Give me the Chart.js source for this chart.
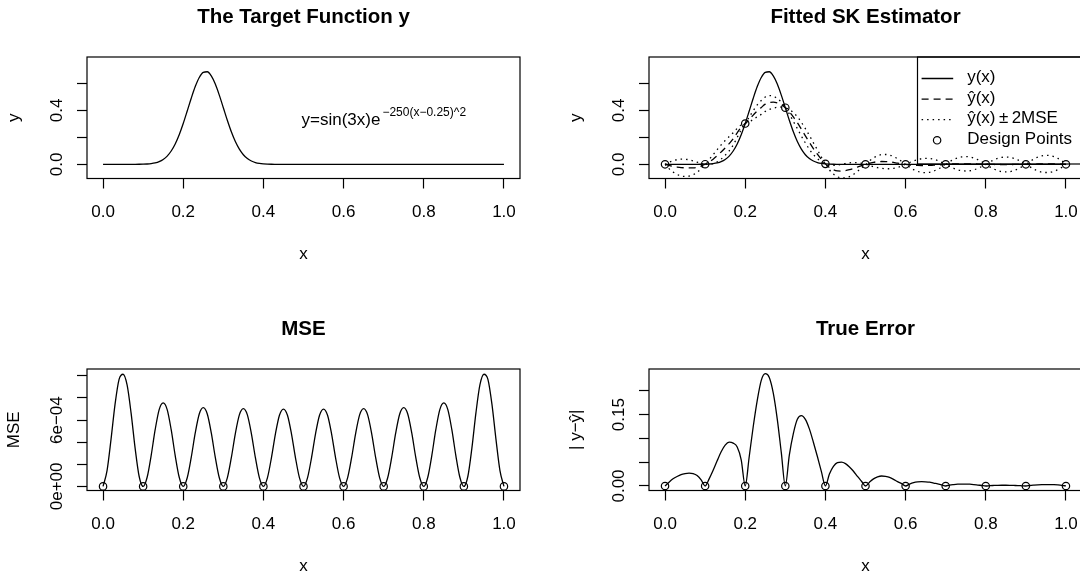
<!DOCTYPE html>
<html>
<head>
<meta charset="utf-8">
<script src="https://cdn.jsdelivr.net/npm/chart.js@4.4.1/dist/chart.umd.min.js"></script>
<style>
  html, body { margin: 0; padding: 0; background: #fff; width: 1080px; height: 575px; overflow: hidden; position: relative; }
  canvas { position: absolute; }
</style>
</head>
<body>
<canvas id="target" width="540" height="280" style="left:0;top:0"></canvas>
<canvas id="fitted" width="540" height="280" style="left:562px;top:0"></canvas>
<canvas id="mse" width="540" height="280" style="left:0;top:312px"></canvas>
<canvas id="error" width="540" height="280" style="left:562px;top:312px"></canvas>
<script>
// x grid used by every curve (step 0.01)
const xGrid = [
  0.00, 0.01, 0.02, 0.03, 0.04, 0.05, 0.06, 0.07, 0.08, 0.09,
  0.10, 0.11, 0.12, 0.13, 0.14, 0.15, 0.16, 0.17, 0.18, 0.19,
  0.20, 0.21, 0.22, 0.23, 0.24, 0.25, 0.26, 0.27, 0.28, 0.29,
  0.30, 0.31, 0.32, 0.33, 0.34, 0.35, 0.36, 0.37, 0.38, 0.39,
  0.40, 0.41, 0.42, 0.43, 0.44, 0.45, 0.46, 0.47, 0.48, 0.49,
  0.50, 0.51, 0.52, 0.53, 0.54, 0.55, 0.56, 0.57, 0.58, 0.59,
  0.60, 0.61, 0.62, 0.63, 0.64, 0.65, 0.66, 0.67, 0.68, 0.69,
  0.70, 0.71, 0.72, 0.73, 0.74, 0.75, 0.76, 0.77, 0.78, 0.79,
  0.80, 0.81, 0.82, 0.83, 0.84, 0.85, 0.86, 0.87, 0.88, 0.89,
  0.90, 0.91, 0.92, 0.93, 0.94, 0.95, 0.96, 0.97, 0.98, 0.99,
  1.00
];

// target function y(x)
const yTrue = [
  0, 0, 0, 0, 0, 0.00001, 0.00002, 0.00006, 0.00017, 0.00044,
  0.00106, 0.00241, 0.00515, 0.01039, 0.0198, 0.0357, 0.0610, 0.0986, 0.1510, 0.2194,
  0.3022, 0.3949, 0.4896, 0.5759, 0.6431, 0.6816, 0.6859, 0.6553, 0.5946, 0.5123,
  0.4193, 0.3259, 0.2407, 0.1688, 0.1125, 0.0712, 0.0428, 0.0245, 0.0133, 0.0069,
  0.0034, 0.0016, 0.0007, 0.0003, 0.0001, 0, 0, 0, 0, 0,
  0, 0, 0, 0, 0, 0, 0, 0, 0, 0,
  0, 0, 0, 0, 0, 0, 0, 0, 0, 0,
  0, 0, 0, 0, 0, 0, 0, 0, 0, 0,
  0, 0, 0, 0, 0, 0, 0, 0, 0, 0,
  0, 0, 0, 0, 0, 0, 0, 0, 0, 0,
  0
];

// fitted SK predictor
const yHat = [
  0, -0.008, -0.015, -0.020, -0.024, -0.026, -0.027, -0.026, -0.0218, -0.0126,
  0.0011, 0.0174, 0.0382, 0.0634, 0.0918, 0.1217, 0.153, 0.1886, 0.233, 0.2744,
  0.3022, 0.3329, 0.3646, 0.3959, 0.4211, 0.4456, 0.4579, 0.4603, 0.4546, 0.4423,
  0.4193, 0.3909, 0.3507, 0.3088, 0.2605, 0.2112, 0.1628, 0.1165, 0.0753, 0.0369,
  0.0034, -0.0234, -0.0403, -0.0487, -0.0499, -0.047, -0.040, -0.031, -0.020, -0.010,
  0, 0.008, 0.015, 0.019, 0.021, 0.020, 0.018, 0.014, 0.009, 0.005,
  0, -0.004, -0.007, -0.0085, -0.009, -0.0088, -0.008, -0.006, -0.0045, -0.0025,
  0, 0.002, 0.003, 0.0037, 0.004, 0.004, 0.0037, 0.003, 0.002, 0.001,
  0, -0.0007, -0.0011, -0.0014, -0.0015, -0.0015, -0.0014, -0.0011, -0.0008, -0.0004,
  0, 0.001, 0.0017, 0.0023, 0.0027, 0.003, 0.003, 0.0028, 0.0022, 0.0013,
  0
];

// upper and lower band
const bandUpper = [
  0, 0.0159, 0.0264, 0.0346, 0.0383, 0.0377, 0.0336, 0.0255, 0.0155, 0.0066,
  0.0011, 0.0356, 0.0716, 0.1087, 0.1445, 0.1767, 0.2057, 0.2339, 0.2664, 0.2926,
  0.3022, 0.3506, 0.397, 0.4399, 0.4723, 0.499, 0.5091, 0.5043, 0.487, 0.46,
  0.4193, 0.4084, 0.383, 0.3525, 0.3114, 0.2642, 0.2137, 0.1602, 0.1076, 0.0544,
  0.0034, -0.0059, -0.0081, -0.0051, 0.0009, 0.0059, 0.0108, 0.0126, 0.0122, 0.0075,
  0, 0.0255, 0.0472, 0.0626, 0.0718, 0.0729, 0.0688, 0.0576, 0.0412, 0.0225,
  0, 0.0135, 0.0252, 0.0351, 0.0418, 0.0441, 0.0428, 0.0376, 0.0277, 0.015,
  0, 0.0197, 0.0354, 0.0477, 0.0552, 0.0574, 0.0549, 0.047, 0.0344, 0.0187,
  0, 0.0175, 0.0323, 0.0439, 0.0512, 0.0535, 0.0513, 0.0442, 0.0326, 0.0178,
  0, 0.0202, 0.039, 0.0538, 0.0633, 0.0667, 0.0653, 0.0574, 0.0436, 0.0252,
  0
];
const bandLower = [
  0, -0.0319, -0.0564, -0.0746, -0.0863, -0.0897, -0.0876, -0.0775, -0.0591, -0.0318,
  0.0011, -0.0008, 0.0048, 0.0181, 0.0391, 0.0667, 0.1003, 0.1433, 0.1996, 0.2562,
  0.3022, 0.3152, 0.3322, 0.3519, 0.3699, 0.3922, 0.4067, 0.4163, 0.4222, 0.4246,
  0.4193, 0.3734, 0.3184, 0.2651, 0.2096, 0.1582, 0.1119, 0.0728, 0.043, 0.0194,
  0.0034, -0.0409, -0.0725, -0.0923, -0.1007, -0.0999, -0.0908, -0.0746, -0.0522, -0.0275,
  0, -0.0095, -0.0172, -0.0246, -0.0298, -0.0329, -0.0328, -0.0296, -0.0232, -0.0125,
  0, -0.0215, -0.0392, -0.0521, -0.0598, -0.0617, -0.0588, -0.0496, -0.0367, -0.02,
  0, -0.0157, -0.0294, -0.0403, -0.0472, -0.0494, -0.0475, -0.041, -0.0304, -0.0167,
  0, -0.0189, -0.0345, -0.0467, -0.0542, -0.0565, -0.0541, -0.0464, -0.0342, -0.0186,
  0, -0.0182, -0.0356, -0.0492, -0.0579, -0.0607, -0.0593, -0.0518, -0.0392, -0.0226,
  0
];

// MSE of the predictor
const mseVals = [
  0, 1.43e-4, 4.28e-4, 7.45e-4, 9.69e-4, 1.015e-3, 9.18e-4, 6.63e-4, 3.47e-4, 9.2e-5,
  0, 8.3e-5, 2.79e-4, 5.13e-4, 6.95e-4, 7.55e-4, 6.95e-4, 5.13e-4, 2.79e-4, 8.3e-5,
  0, 7.8e-5, 2.63e-4, 4.84e-4, 6.55e-4, 7.12e-4, 6.55e-4, 4.84e-4, 2.63e-4, 7.8e-5,
  0, 7.7e-5, 2.60e-4, 4.78e-4, 6.47e-4, 7.03e-4, 6.47e-4, 4.78e-4, 2.60e-4, 7.7e-5,
  0, 7.7e-5, 2.59e-4, 4.76e-4, 6.44e-4, 7.00e-4, 6.44e-4, 4.76e-4, 2.59e-4, 7.7e-5,
  0, 7.7e-5, 2.59e-4, 4.76e-4, 6.44e-4, 7.00e-4, 6.44e-4, 4.76e-4, 2.59e-4, 7.7e-5,
  0, 7.7e-5, 2.60e-4, 4.78e-4, 6.47e-4, 7.03e-4, 6.47e-4, 4.78e-4, 2.60e-4, 7.7e-5,
  0, 7.8e-5, 2.63e-4, 4.84e-4, 6.55e-4, 7.12e-4, 6.55e-4, 4.84e-4, 2.63e-4, 7.8e-5,
  0, 8.3e-5, 2.79e-4, 5.13e-4, 6.95e-4, 7.55e-4, 6.95e-4, 5.13e-4, 2.79e-4, 8.3e-5,
  0, 9.2e-5, 3.47e-4, 6.63e-4, 9.18e-4, 1.015e-3, 9.69e-4, 7.45e-4, 4.28e-4, 1.43e-4,
  0
];

// true error |y - yhat|
const errVals = [
  0, 0.008, 0.015, 0.020, 0.024, 0.026, 0.027, 0.026, 0.022, 0.013,
  0, 0.015, 0.033, 0.053, 0.072, 0.086, 0.092, 0.090, 0.082, 0.055,
  0, 0.062, 0.125, 0.180, 0.222, 0.236, 0.228, 0.195, 0.140, 0.070,
  0, 0.065, 0.110, 0.140, 0.148, 0.140, 0.120, 0.092, 0.062, 0.030,
  0, 0.025, 0.041, 0.049, 0.050, 0.047, 0.040, 0.031, 0.020, 0.010,
  0, 0.008, 0.015, 0.019, 0.021, 0.020, 0.018, 0.014, 0.009, 0.005,
  0, 0.004, 0.007, 0.0085, 0.009, 0.0088, 0.008, 0.006, 0.0045, 0.0025,
  0, 0.002, 0.003, 0.0037, 0.004, 0.004, 0.0037, 0.003, 0.002, 0.001,
  0, 0.0007, 0.0011, 0.0014, 0.0015, 0.0015, 0.0014, 0.0011, 0.0008, 0.0004,
  0, 0.001, 0.0017, 0.0023, 0.0027, 0.003, 0.003, 0.0028, 0.0022, 0.0013,
  0
];

// design points
const designX = [0, 0.1, 0.2, 0.3, 0.4, 0.5, 0.6, 0.7, 0.8, 0.9, 1.0];
const designY = [0, 0.00106, 0.3022, 0.4193, 0.0034, 0, 0, 0, 0, 0, 0];
const designMse = [0, 0, 0, 0, 0, 0, 0, 0, 0, 0, 0];
const designErr = [0, 0, 0, 0, 0, 0, 0, 0, 0, 0, 0];

// ticks
const xTicks = [0, 0.2, 0.4, 0.6, 0.8, 1.0];
const xTickLabels = ['0.0', '0.2', '0.4', '0.6', '0.8', '1.0'];
const yTicksTop = [0, 0.2, 0.4, 0.6];
const yTickLabelsTop = ['0.0', '', '0.4', ''];
const yTicksMse = [0, 2e-4, 4e-4, 6e-4, 8e-4, 1e-3];
const yTickLabelsMse = ['0e+00', '', '', '6e\u221204', '', ''];
const yTicksErr = [0, 0.05, 0.10, 0.15, 0.20];
const yTickLabelsErr = ['0.00', '', '', '0.15', ''];

const legendLabels = ['y(x)', '\u0177(x)', '\u0177(x)\u2009\u00b1\u20092MSE', 'Design Points'];

const FONT = 'Liberation Sans, Arial, sans-serif';
Chart.defaults.font.family = FONT;
Chart.defaults.font.size = 17;
Chart.defaults.color = '#000';

function pts(xs, ys) {
    return xs.map((x, i) => ({ x: x, y: ys[i] }));
}

function curve(ys, dash) {
    return {
        data: pts(xGrid, ys),
        borderColor: '#000',
        borderWidth: 1.3,
        borderDash: dash || [],
        pointRadius: 0,
        cubicInterpolationMode: 'monotone',
        fill: false
    };
}

function designPoints(ys) {
    return {
        data: pts(designX, ys),
        showLine: false,
        pointRadius: 3.7,
        pointBorderWidth: 1.2,
        pointBorderColor: '#000',
        pointBackgroundColor: 'rgba(0,0,0,0)',
        clip: false
    };
}

// box, title, rotated y tick labels, note and legend in R style
const rFrame = {
    id: 'rframe',
    afterDraw(chart, args, opts) {
        const { ctx, chartArea: a, scales: { x, y } } = chart;
        ctx.save();
        ctx.strokeStyle = '#000';
        ctx.fillStyle = '#000';
        ctx.lineWidth = 1.2;
        ctx.strokeRect(a.left, a.top, a.right - a.left, a.bottom - a.top);

        ctx.textAlign = 'center';
        ctx.textBaseline = 'middle';
        ctx.font = 'bold 20.5px ' + FONT;
        ctx.fillText(opts.title, (a.left + a.right) / 2, 17);

        ctx.font = '17px ' + FONT;
        opts.yTicks.forEach((v, i) => {
            if (!opts.yLabels[i]) return;
            ctx.save();
            ctx.translate(a.left - 30, y.getPixelForValue(v));
            ctx.rotate(-Math.PI / 2);
            ctx.fillText(opts.yLabels[i], 0, 0);
            ctx.restore();
        });

        if (opts.note) {
            const nx = x.getPixelForValue(0.495);
            const ny = y.getPixelForValue(0.325);
            ctx.textAlign = 'left';
            ctx.fillText('y=sin(3x)e', nx, ny);
            const w = ctx.measureText('y=sin(3x)e').width;
            ctx.font = '12px ' + FONT;
            ctx.fillText('\u2212250(x\u22120.25)^2', nx + w + 2, ny - 7.5);
        }

        if (opts.legend) {
            const L = a.right - 164.5, T = a.top;
            ctx.lineWidth = 1.2;
            ctx.setLineDash([]);
            ctx.strokeRect(L, T, 200, 107);
            const dashes = [[], [7, 5], [1.5, 4]];
            ctx.font = '17px ' + FONT;
            ctx.textAlign = 'left';
            legendLabels.forEach((lab, i) => {
                const ry = T + 21.5 + 20.6 * i;
                ctx.lineWidth = 1.3;
                if (i < 3) {
                    ctx.setLineDash(dashes[i]);
                    ctx.beginPath();
                    ctx.moveTo(L + 4.1, ry);
                    ctx.lineTo(L + 35.7, ry);
                    ctx.stroke();
                    ctx.setLineDash([]);
                } else {
                    ctx.lineWidth = 1.2;
                    ctx.beginPath();
                    ctx.arc(L + 19.6, ry, 3.7, 0, Math.PI * 2);
                    ctx.stroke();
                }
                ctx.fillText(lab, L + 49.7, ry - 1);
            });
        }
        ctx.restore();
    }
};

function panel(id, o) {
    return new Chart(document.getElementById(id), {
        type: 'line',
        data: { datasets: o.datasets },
        options: {
            responsive: false,
            animation: false,
            events: [],
            layout: { padding: { top: 57, right: 20, bottom: 0, left: 0 } },
            plugins: {
                legend: { display: false },
                tooltip: { enabled: false },
                rframe: { title: o.title, yTicks: o.yTicks, yLabels: o.yLabels, note: !!o.note, legend: !!o.legend }
            },
            scales: {
                x: {
                    type: 'linear',
                    min: -0.04,
                    max: 1.04,
                    afterBuildTicks: s => { s.ticks = xTicks.map(v => ({ value: v })); },
                    afterFit: s => { s.height = 101.5; },
                    ticks: {
                        autoSkip: false,
                        maxRotation: 0,
                        padding: 13.5,
                        callback: (v, i) => xTickLabels[i]
                    },
                    grid: { display: true, drawOnChartArea: false, drawTicks: true, tickLength: 10, tickWidth: 1.2, tickColor: '#000' },
                    border: { display: false },
                    title: { display: true, text: 'x', padding: { top: 0, bottom: 15.5 } }
                },
                y: {
                    type: 'linear',
                    min: o.yMin,
                    max: o.yMax,
                    afterBuildTicks: s => { s.ticks = o.yTicks.map(v => ({ value: v })); },
                    afterFit: s => { s.width = 87; },
                    ticks: { display: false },
                    grid: { display: true, drawOnChartArea: false, drawTicks: true, tickLength: 10, tickWidth: 1.2, tickColor: '#000' },
                    border: { display: false },
                    title: { display: true, text: o.yTitle, padding: { top: 4.3, bottom: 0 } }
                }
            }
        },
        plugins: [rFrame]
    });
}

panel('target', {
    title: 'The Target Function y',
    yTitle: 'y',
    yMin: -0.105, yMax: 0.795,
    yTicks: yTicksTop, yLabels: yTickLabelsTop,
    note: true,
    datasets: [curve(yTrue)]
});

panel('fitted', {
    title: 'Fitted SK Estimator',
    yTitle: 'y',
    yMin: -0.105, yMax: 0.795,
    yTicks: yTicksTop, yLabels: yTickLabelsTop,
    legend: true,
    datasets: [
        designPoints(designY),
        curve(yTrue),
        curve(yHat, [7, 5]),
        curve(bandUpper, [1.5, 4]),
        curve(bandLower, [1.5, 4])
    ]
});

panel('mse', {
    title: 'MSE',
    yTitle: 'MSE',
    yMin: -3.7e-5, yMax: 1.0624e-3,
    yTicks: yTicksMse, yLabels: yTickLabelsMse,
    datasets: [designPoints(designMse), curve(mseVals)]
});

panel('error', {
    title: 'True Error',
    yTitle: '| y\u2212\u0177|',
    yMin: -0.0095, yMax: 0.2458,
    yTicks: yTicksErr, yLabels: yTickLabelsErr,
    datasets: [designPoints(designErr), curve(errVals)]
});
</script>
</body>
</html>
